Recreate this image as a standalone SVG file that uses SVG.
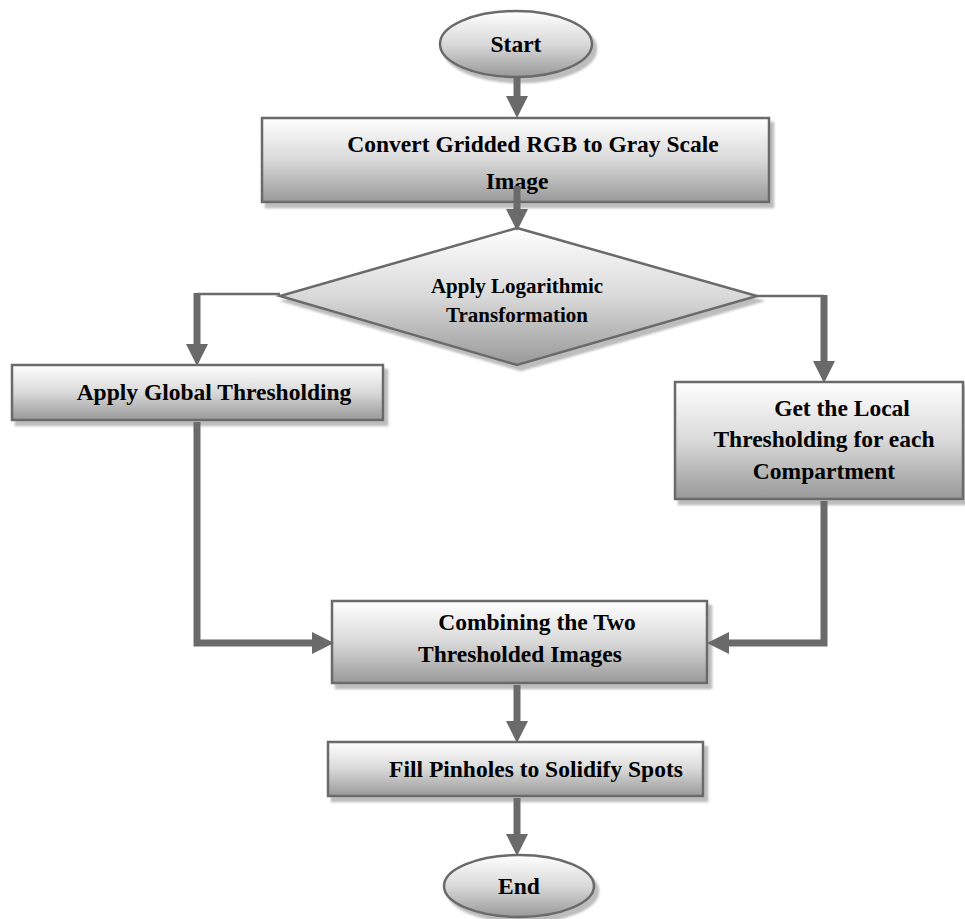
<svg xmlns="http://www.w3.org/2000/svg" width="965" height="919" viewBox="0 0 965 919">
<defs>
<linearGradient id="g" x1="0" y1="0" x2="0" y2="1">
<stop offset="0" stop-color="#ffffff"/>
<stop offset="0.5" stop-color="#d9d9d9"/>
<stop offset="1" stop-color="#999999"/>
</linearGradient>
<filter id="sh" x="-10%" y="-10%" width="130%" height="140%">
<feOffset in="SourceAlpha" dx="4" dy="5" result="o"/>
<feGaussianBlur in="o" stdDeviation="0.8" result="b"/>
<feFlood flood-color="#bdbdbd"/>
<feComposite in2="b" operator="in" result="s"/>
<feMerge><feMergeNode in="s"/><feMergeNode in="SourceGraphic"/></feMerge>
</filter>
<marker id="ah" markerUnits="userSpaceOnUse" markerWidth="22" markerHeight="22" viewBox="0 0 22 22" refX="0" refY="11" orient="auto">
<path d="M0,0 L22,11 L0,22 z" fill="#6a6a6a"/>
</marker>
</defs>
<style>
.n{fill:url(#g);stroke:#6a6a6a;stroke-width:2.5;filter:url(#sh)}
.t{font-family:"Liberation Serif","Times New Roman",serif;font-weight:bold;font-size:23.5px;fill:#000;text-anchor:middle}
.td{font-size:21px}
.c{fill:none;stroke:#6a6a6a;stroke-width:7}
.thin{fill:none;stroke:#6a6a6a;stroke-width:2.5}
</style>
<g id="start">
<ellipse class="n" cx="516" cy="44" rx="76" ry="33"/>
<text class="t" x="516" y="52">Start</text>
</g>
<g id="convert">
<rect class="n" x="262" y="118" width="507" height="84"/>
<text class="t" x="533" y="152">Convert Gridded RGB to Gray Scale</text>
<text class="t" x="517" y="189">Image</text>
</g>
<g id="log">
<polygon class="n" points="517,228 757,296 517,365 280,296"/>
<text class="t td" x="517" y="293">Apply Logarithmic</text>
<text class="t td" x="517" y="322">Transformation</text>
</g>
<g id="global">
<rect class="n" x="12" y="365" width="371" height="55"/>
<text class="t" x="214" y="400">Apply Global Thresholding</text>
</g>
<g id="local">
<rect class="n" x="675" y="382" width="288" height="117"/>
<text class="t" x="842" y="416">Get the Local</text>
<text class="t" x="824" y="447">Thresholding for each</text>
<text class="t" x="824" y="479">Compartment</text>
</g>
<g id="combine">
<rect class="n" x="332" y="601" width="375" height="82"/>
<text class="t" x="537" y="630">Combining the Two</text>
<text class="t" x="520" y="662">Thresholded Images</text>
</g>
<g id="fill">
<rect class="n" x="328" y="742" width="375" height="54"/>
<text class="t" x="536" y="777">Fill Pinholes to Solidify Spots</text>
</g>
<g id="end">
<ellipse class="n" cx="519" cy="886" rx="75" ry="31"/>
<text class="t" x="519" y="894">End</text>
</g>
<g id="connectors">
<path class="c" d="M517,78 V96" marker-end="url(#ah)"/>
<path class="c" d="M517,186 V209" marker-end="url(#ah)"/>
<path class="thin" d="M280,294 H197"/>
<path class="c" d="M197,293 V344" marker-end="url(#ah)"/>
<path class="thin" d="M757,296 H824"/>
<path class="c" d="M824,295 V361" marker-end="url(#ah)"/>
<path class="c" d="M197,422 V643 H312" marker-end="url(#ah)"/>
<path class="c" d="M824,501 V643 H729" marker-end="url(#ah)"/>
<path class="c" d="M517,685 V721" marker-end="url(#ah)"/>
<path class="c" d="M517,798 V834" marker-end="url(#ah)"/>
</g>
</svg>
